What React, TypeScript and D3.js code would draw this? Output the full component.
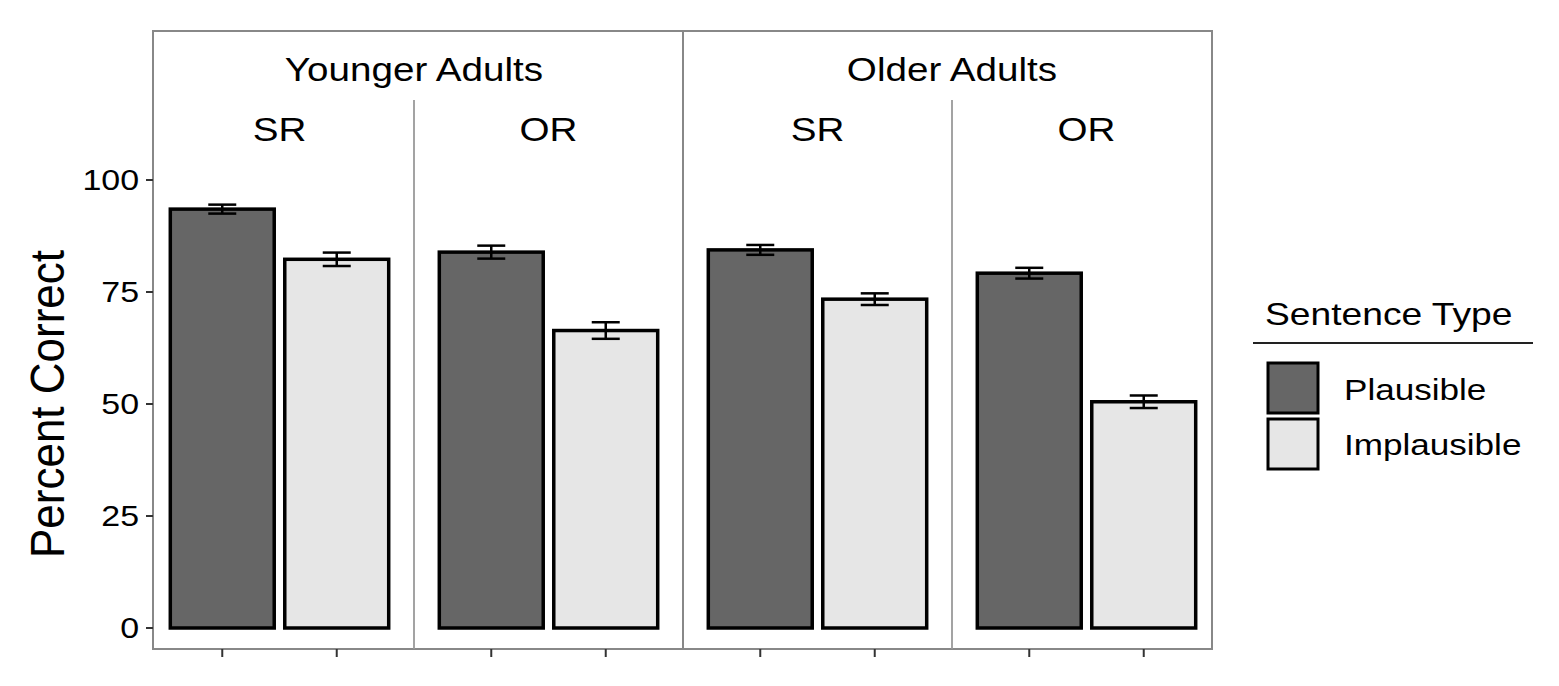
import React from 'react';
import * as d3 from 'd3';

// chart data
const ageGroups = ['Younger Adults', 'Older Adults'];
const clauseTypes = ['SR', 'OR'];
const sentenceTypes = ['Plausible', 'Implausible'];

// percent correct, [age group][clause type][sentence type]
const meanCorrect = [
  [[93.5, 82.3], [83.9, 66.4]],
  [[84.4, 73.4], [79.2, 50.5]],
];
const stdError = [
  [[1.0, 1.5], [1.45, 1.85]],
  [[1.1, 1.3], [1.2, 1.4]],
];
const yTicks = [0, 25, 50, 75, 100];

const fills: Record<string, string> = { Plausible: '#666666', Implausible: '#e6e6e6' };
const FONT = '"Liberation Sans", Arial, Helvetica, sans-serif';
const STRETCH = 1.17;

function Txt({ x, y, size, anchor = 'middle', children, k = STRETCH }: any) {
  return (
    <g transform={`translate(${x},${y}) scale(${k},1)`}>
      <text x={0} y={0} fontSize={size} textAnchor={anchor} fontFamily={FONT} fill="#000">
        {children}
      </text>
    </g>
  );
}

export default function App() {
  const width = 1559;
  const height = 686;
  const box = { left: 153, right: 1212, top: 31, bottom: 649 };

  const groupX = d3.scaleBand().domain(ageGroups).range([145, 1221]);
  const clauseX = d3.scaleBand().domain(clauseTypes).range([0, groupX.bandwidth()]);
  const typeX = d3.scaleBand()
    .domain(sentenceTypes)
    .range([0, clauseX.bandwidth()])
    .paddingInner(0.092)
    .paddingOuter(0.221);
  const y = d3.scaleLinear().domain([0, 100]).range([628, 180]);

  const bars: any[] = [];
  ageGroups.forEach((g, gi) => {
    clauseTypes.forEach((c, ci) => {
      sentenceTypes.forEach((t, ti) => {
        const x0 = (groupX(g) as number) + (clauseX(c) as number) + (typeX(t) as number);
        bars.push({
          key: `${g}-${c}-${t}`,
          x: x0,
          w: typeX.bandwidth(),
          cx: x0 + typeX.bandwidth() / 2,
          v: meanCorrect[gi][ci][ti],
          se: stdError[gi][ci][ti],
          type: t,
        });
      });
    });
  });

  const innerDividers = ageGroups.map(g => (groupX(g) as number) + (clauseX('OR') as number));
  const outerDivider = groupX('Older Adults') as number;

  return (
    <div style={{ position: 'fixed', left: 0, top: 0, background: '#fff' }}>
      <svg width={width} height={height} viewBox={`0 0 ${width} ${height}`}>
        <rect x={0} y={0} width={width} height={height} fill="#fff" />

        {/* bars */}
        {bars.map(b => (
          <rect
            key={b.key}
            x={b.x}
            y={y(b.v)}
            width={b.w}
            height={y(0) - y(b.v)}
            fill={fills[b.type]}
            stroke="#000"
            strokeWidth={3.5}
          />
        ))}

        {/* error bars */}
        {bars.map(b => (
          <g key={`e-${b.key}`} stroke="#000" strokeWidth={2.5}>
            <line x1={b.cx} x2={b.cx} y1={y(b.v + b.se)} y2={y(b.v - b.se)} />
            <line x1={b.cx - 14} x2={b.cx + 14} y1={y(b.v + b.se)} y2={y(b.v + b.se)} />
            <line x1={b.cx - 14} x2={b.cx + 14} y1={y(b.v - b.se)} y2={y(b.v - b.se)} />
          </g>
        ))}

        {/* panel frame and dividers */}
        <rect
          x={box.left}
          y={box.top}
          width={box.right - box.left}
          height={box.bottom - box.top}
          fill="none"
          stroke="#888"
          strokeWidth={2}
        />
        <line x1={outerDivider} x2={outerDivider} y1={box.top} y2={box.bottom} stroke="#888" strokeWidth={2} />
        {innerDividers.map((d, i) => (
          <line key={i} x1={d} x2={d} y1={100} y2={box.bottom} stroke="#999" strokeWidth={1.8} />
        ))}

        {/* strip labels */}
        {ageGroups.map(g => (
          <Txt key={g} x={(groupX(g) as number) + groupX.bandwidth() / 2} y={81} size={33}>
            {g}
          </Txt>
        ))}
        {ageGroups.map(g =>
          clauseTypes.map(c => (
            <Txt
              key={`${g}-${c}`}
              x={(groupX(g) as number) + (clauseX(c) as number) + clauseX.bandwidth() / 2}
              y={141}
              size={33}
            >
              {c}
            </Txt>
          ))
        )}

        {/* y axis */}
        {yTicks.map(t => (
          <g key={t}>
            <line x1={146} x2={box.left} y1={y(t)} y2={y(t)} stroke="#333" strokeWidth={2} />
            <Txt x={139} y={y(t) + 10} size={29} anchor="end">
              {t}
            </Txt>
          </g>
        ))}
        <g transform={`translate(64,${(y(0) + y(100)) / 2}) scale(1.1,1)`}>
          <text
            transform="rotate(-90)"
            x={0}
            y={0}
            fontSize={44}
            textAnchor="middle"
            fontFamily={FONT}
            fill="#000"
          >
            Percent Correct
          </text>
        </g>

        {/* x axis ticks */}
        {bars.map(b => (
          <line key={`t-${b.key}`} x1={b.cx} x2={b.cx} y1={box.bottom} y2={657} stroke="#333" strokeWidth={2} />
        ))}

        {/* legend */}
        <Txt x={1265} y={325} size={31} anchor="start" k={1.2}>
          Sentence Type
        </Txt>
        <line x1={1253} x2={1533} y1={343} y2={343} stroke="#222" strokeWidth={2} />
        {sentenceTypes.map((t, i) => (
          <g key={t}>
            <rect
              x={1268}
              y={363 + i * 56}
              width={50}
              height={50}
              fill={fills[t]}
              stroke="#000"
              strokeWidth={3}
            />
            <Txt x={1344} y={400 + i * 55} size={30} anchor="start">
              {t}
            </Txt>
          </g>
        ))}
      </svg>
    </div>
  );
}
